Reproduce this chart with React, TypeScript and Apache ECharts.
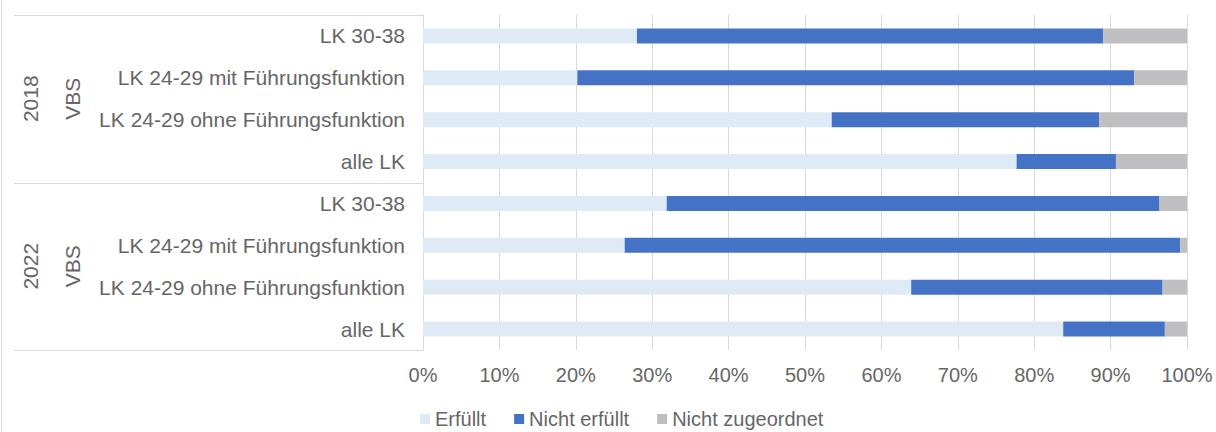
import React, { useEffect, useRef } from "react";
import * as echarts from "echarts";

const categories = [
  "LK 30-38",
  "LK 24-29 mit Führungsfunktion",
  "LK 24-29 ohne Führungsfunktion",
  "alle LK",
  "LK 30-38",
  "LK 24-29 mit Führungsfunktion",
  "LK 24-29 ohne Führungsfunktion",
  "alle LK",
];
const groupYears = ["2018", "2022"];
const groupUnits = ["VBS", "VBS"];
const groupSize = 4;
const erfuellt = [28.0, 20.2, 53.5, 77.7, 31.9, 26.4, 63.9, 83.8];
const nichtErfuellt = [61.0, 72.9, 35.0, 13.0, 64.5, 72.7, 32.9, 13.3];
const nichtZugeordnet = [11.0, 6.9, 11.5, 9.3, 3.6, 0.9, 3.2, 2.9];
const seriesNames = ["Erfüllt", "Nicht erfüllt", "Nicht zugeordnet"];

const FONT = "'Liberation Sans', Arial, sans-serif";
const TXT = "#666666";
const LINE = "#d9d9d9";

export default function App() {
  const ref = useRef<HTMLDivElement>(null);
  useEffect(() => {
    if (!ref.current) return;
    const chart = echarts.init(ref.current, undefined, { renderer: "svg" });
    const catKeys = categories.map((c, i) => `${i}|${c}`);
    chart.setOption({
      animation: false,
      backgroundColor: "#ffffff",
      textStyle: { fontFamily: FONT },
      grid: { left: 423, right: 29, top: 15, bottom: 82, containLabel: false },
      legend: {
        left: 415,
        top: 404,
        padding: 5,
        itemWidth: 10,
        itemHeight: 10,
        itemGap: 28,
        icon: "rect",
        textStyle: { fontFamily: FONT, fontSize: 20, color: TXT },
        data: seriesNames,
      },
      xAxis: {
        type: "value",
        min: 0,
        max: 100,
        interval: 10,
        axisLine: { show: false },
        axisTick: { show: false },
        splitLine: { show: true, lineStyle: { color: LINE, width: 1 } },
        axisLabel: {
          formatter: "{value}%",
          fontFamily: FONT,
          fontSize: 20,
          color: TXT,
          margin: 15,
        },
      },
      yAxis: {
        type: "category",
        inverse: true,
        data: catKeys,
        axisLine: { show: true, lineStyle: { color: LINE, width: 1 } },
        axisTick: { show: false },
        axisLabel: {
          formatter: (v: string) => v.split("|")[1],
          fontFamily: FONT,
          fontSize: 21,
          color: TXT,
          margin: 18,
        },
      },
      series: [
        { name: seriesNames[0], type: "bar", stack: "s", barWidth: 15, data: erfuellt, itemStyle: { color: "#deebf7" } },
        { name: seriesNames[1], type: "bar", stack: "s", barWidth: 15, data: nichtErfuellt, itemStyle: { color: "#4472c4" } },
        { name: seriesNames[2], type: "bar", stack: "s", barWidth: 15, data: nichtZugeordnet, itemStyle: { color: "#bfbfc1" } },
      ],
    });

    const p0 = chart.convertToPixel({ yAxisIndex: 0 }, catKeys[0]) as number;
    const p1 = chart.convertToPixel({ yAxisIndex: 0 }, catKeys[1]) as number;
    const band = p1 - p0;
    const elements: any[] = [
      { type: "line", shape: { x1: 1.5, y1: 0, x2: 1.5, y2: 432 }, style: { stroke: LINE, lineWidth: 1 } },
    ];
    for (let g = 0; g <= groupYears.length; g++) {
      const y = Math.round(p0 - band / 2 + g * groupSize * band) + 0.5;
      elements.push({ type: "line", shape: { x1: 14, y1: y, x2: 423, y2: y }, style: { stroke: LINE, lineWidth: 1 } });
    }
    groupYears.forEach((yr, g) => {
      const yc = p0 - band / 2 + (g + 0.5) * groupSize * band;
      elements.push({
        type: "text",
        x: 30,
        y: yc,
        rotation: Math.PI / 2,
        style: { text: yr, fontFamily: FONT, fontSize: 21, fill: TXT, align: "center", verticalAlign: "middle" },
      });
      elements.push({
        type: "text",
        x: 72,
        y: yc,
        rotation: Math.PI / 2,
        style: { text: groupUnits[g], fontFamily: FONT, fontSize: 21, fill: TXT, align: "center", verticalAlign: "middle" },
      });
    });
    chart.setOption({ graphic: { elements } });
    return () => chart.dispose();
  }, []);
  return <div ref={ref} style={{ position: "fixed", left: 0, top: 0, width: 1216, height: 432 }} />;
}
